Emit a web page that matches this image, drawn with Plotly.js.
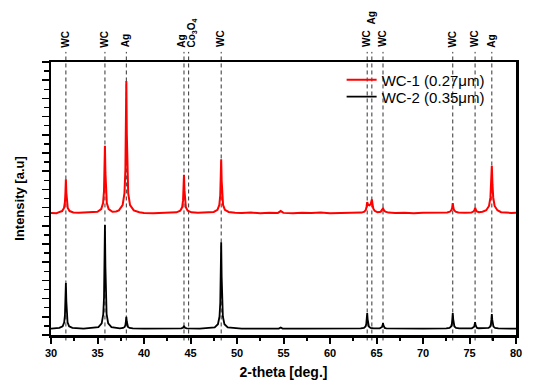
<!DOCTYPE html>
<html>
<head>
<meta charset="utf-8">
<script src="https://cdn.plot.ly/plotly-3.0.1.min.js"></script>
<style>html,body{margin:0;padding:0;background:#fff;}#chart{width:537px;height:389px;}</style>
</head>
<body>
<div id="chart"></div>
<script>
// 2-theta (deg) and intensity (a.u.)
var wc1_x = [30, 30.6, 30.8,
  31.2, 31.4, 31.5, 31.55, 31.6, 31.65, 31.7, 31.8, 32.0, 32.4, 33.0, 34.0,
  35.0, 35.4, 35.6, 35.7, 35.75, 35.8, 35.85, 35.9, 36.0, 36.2, 36.6, 37.0,
  37.3, 37.7, 37.9, 38.0, 38.05, 38.1, 38.15, 38.2, 38.3, 38.5, 38.9, 39.5, 40.0, 41.0, 42.0, 43.0,
  43.5, 43.9, 44.1, 44.2, 44.25, 44.3, 44.35, 44.4, 44.5, 44.7, 45.1, 45.8, 46.5,
  47.5, 47.9, 48.1, 48.2, 48.25, 48.3, 48.35, 48.4, 48.5, 48.7, 49.1, 49.8, 50.5, 51.5, 52.5, 53.5,
  54.4, 54.7, 55.0, 56.0, 57.0, 58.0, 59.0, 60.0, 61.0, 62.0, 63.0,
  63.4, 63.7, 63.85, 63.93, 64.0, 64.1, 64.25, 64.38, 64.45, 64.5, 64.57, 64.65, 64.8, 65.1,
  65.45, 65.6, 65.7, 65.8, 65.95, 66.3, 67.0, 68.0, 69.0, 70.0, 71.0, 72.0,
  72.6, 72.9, 73.05, 73.13, 73.2, 73.27, 73.35, 73.5, 73.8, 74.5,
  75.2, 75.45, 75.55, 75.6, 75.65, 75.75, 76.0,
  76.4, 76.8, 77.1, 77.25, 77.33, 77.4, 77.47, 77.55, 77.7, 78.0, 78.4, 79.0, 79.5, 80];
var wc1_y = [13.42, 13.38, 13.47,
  13.62, 13.96, 14.62, 15.62, 17.1, 15.62, 14.62, 13.96, 13.62, 13.47, 13.44, 13.47,
  13.55, 13.84, 14.51, 15.84, 17.84, 20.8, 17.84, 15.84, 14.51, 13.84, 13.55, 13.58,
  13.69, 14.27, 15.58, 18.19, 22.1, 27.9, 22.1, 18.19, 15.58, 14.27, 13.69, 13.5, 13.42, 13.38, 13.44, 13.42,
  13.48, 13.65, 14.03, 14.79, 15.92, 17.6, 15.92, 14.79, 14.03, 13.65, 13.48, 13.43, 13.47,
  13.52, 13.75, 14.29, 15.35, 16.94, 19.3, 16.94, 15.35, 14.29, 13.75, 13.52, 13.44, 13.40, 13.45, 13.38, 13.43,
  13.42, 13.62, 13.42, 13.39, 13.44, 13.40, 13.45, 13.38, 13.42, 13.46, 13.42,
  13.45, 13.55, 13.75, 14.1, 14.6, 14.3, 14.25, 14.4, 14.8, 14.9, 14.4, 13.9, 13.65, 13.5,
  13.55, 13.7, 13.9, 13.7, 13.55, 13.45, 13.40, 13.44, 13.39, 13.43, 13.41, 13.43,
  13.46, 13.55, 13.7, 13.95, 14.5, 13.95, 13.7, 13.55, 13.46, 13.44,
  13.45, 13.6, 13.75, 14.0, 13.75, 13.6, 13.5,
  13.55, 13.71, 14.18, 15.12, 16.52, 18.6, 16.52, 15.12, 14.18, 13.71, 13.5, 13.44, 13.42, 13.44];

var wc2_x = [30,
  30.9, 31.25, 31.42, 31.5, 31.55, 31.6, 31.65, 31.7, 31.78, 31.95, 32.3, 33.5,
  35.1, 35.45, 35.62, 35.7, 35.75, 35.8, 35.85, 35.9, 35.98, 36.15, 36.5,
  37.4, 37.75, 37.92, 38.0, 38.05, 38.1, 38.15, 38.2, 38.28, 38.45, 38.8, 40.0, 42.0,
  44.0, 44.2, 44.3, 44.4, 44.6, 46.0,
  47.6, 47.95, 48.12, 48.2, 48.25, 48.3, 48.35, 48.4, 48.48, 48.65, 49.0, 50.5, 52.5,
  54.5, 54.7, 54.9, 57.0, 60.0,
  63.3, 63.65, 63.82, 63.9, 63.95, 64.0, 64.05, 64.1, 64.18, 64.35, 64.7,
  65.35, 65.52, 65.6, 65.65, 65.7, 65.75, 65.8, 65.88, 66.05, 68.0, 70.0,
  72.5, 72.85, 73.02, 73.1, 73.15, 73.2, 73.25, 73.3, 73.38, 73.55, 73.9,
  75.25, 75.42, 75.5, 75.55, 75.6, 75.65, 75.7, 75.78, 75.95,
  76.7, 77.05, 77.22, 77.3, 77.35, 77.4, 77.45, 77.5, 77.58, 77.75, 78.1, 80];
var wc2_y = [0.7,
  0.78, 0.95, 1.4, 2.2, 3.7, 5.7, 3.7, 2.2, 1.4, 0.95, 0.78, 0.7,
  0.87, 1.27, 2.3, 4.12, 7.54, 12.1, 7.54, 4.12, 2.3, 1.27, 0.87,
  0.72, 0.77, 0.88, 1.09, 1.48, 2.0, 1.48, 1.09, 0.88, 0.77, 0.72, 0.7, 0.7,
  0.72, 0.8, 1.0, 0.8, 0.72, 0.7,
  0.84, 1.18, 2.03, 3.55, 6.4, 10.2, 6.4, 3.55, 2.03, 1.18, 0.84, 0.7, 0.7,
  0.7, 0.82, 0.7, 0.7, 0.7,
  0.73, 0.79, 0.94, 1.21, 1.72, 2.4, 1.72, 1.21, 0.94, 0.79, 0.73,
  0.73, 0.78, 0.88, 1.06, 1.3, 1.06, 0.88, 0.78, 0.73, 0.7, 0.7,
  0.73, 0.79, 0.94, 1.21, 1.72, 2.4, 1.72, 1.21, 0.94, 0.79, 0.73,
  0.74, 0.8, 0.91, 1.12, 1.4, 1.12, 0.91, 0.8, 0.74,
  0.72, 0.78, 0.92, 1.18, 1.66, 2.3, 1.66, 1.18, 0.92, 0.78, 0.72, 0.7];

// reference peak positions and phase labels
var refPos = [31.6, 35.8, 38.1, 44.3, 44.8, 48.3, 64.0, 64.5, 65.7, 73.2, 75.6, 77.4];
var refLabels = ['WC', 'WC', 'Ag', 'Ag', 'Co<sub>3</sub>O<sub>4</sub>', 'WC', 'WC', 'Ag', 'WC', 'WC', 'WC', 'Ag'];

var seriesNames = ['WC-1 (0.27\u03bcm)', 'WC-2 (0.35\u03bcm)'];

var FONT = 'Arial, Liberation Sans, sans-serif';

var traces = [
  {x: wc1_x, y: wc1_y, type: 'scatter', mode: 'lines', name: seriesNames[0],
   line: {color: '#ff0000', width: 2}, legend: 'legend'},
  {x: wc2_x, y: wc2_y, type: 'scatter', mode: 'lines', name: seriesNames[1],
   line: {color: '#000000', width: 1.8}, legend: 'legend2'}
];

var shapes = refPos.map(function (p) {
  return {type: 'line', xref: 'x', yref: 'paper', x0: p, x1: p, y0: -0.02, y1: 1.037,
          line: {color: '#333333', width: 1, dash: '4px,3px'}, layer: 'below'};
});

// label placement tweaks
var labelShift = {3: -2, 4: 3};
var raised = {7: true};
var annotations = refPos.map(function (p, i) {
  return {xref: 'x', yref: 'paper', x: p, y: raised[i] ? 1.135 : 1.05,
          xanchor: 'center', yanchor: 'bottom', text: refLabels[i], showarrow: false,
          textangle: -90, borderpad: 0, xshift: labelShift[i] || 0,
          font: {family: FONT, size: 10, color: '#000', weight: 'bold'}};
});

function legendBox(yc) {
  return {x: 0.625, y: yc, xanchor: 'left', yanchor: 'middle', bgcolor: 'rgba(0,0,0,0)',
          font: {family: FONT, size: 15, color: '#000'}, itemwidth: 30};
}

var layout = {
  width: 537, height: 389,
  margin: {l: 51, r: 21, t: 62, b: 54, pad: 0},
  paper_bgcolor: '#ffffff', plot_bgcolor: '#ffffff',
  font: {family: FONT, color: '#000'},
  showlegend: true,
  legend: legendBox(0.934),
  legend2: legendBox(0.872),
  xaxis: {
    range: [30, 80], autorange: false, showgrid: false, zeroline: false,
    showline: true, linecolor: '#000', linewidth: 2.5, mirror: true,
    ticks: 'outside', ticklen: 6, tickwidth: 2, tickcolor: '#000',
    tick0: 30, dtick: 5,
    minor: {ticks: 'outside', ticklen: 3, tickwidth: 2, dtick: 2.5, tick0: 30, tickcolor: '#000', showgrid: false},
    tickfont: {family: FONT, size: 11, color: '#000', weight: 'bold'},
    title: {text: '<b>2-theta [deg.]</b>', standoff: 10,
            font: {family: FONT, size: 14, color: '#000'}}
  },
  yaxis: {
    range: [0, 30], autorange: false, showgrid: false, zeroline: false,
    showline: true, linecolor: '#000', linewidth: 2.5, mirror: true,
    ticks: 'outside', ticklen: 7, tickwidth: 1.5, tickcolor: '#000',
    tick0: 0, dtick: 2, showticklabels: false,
    minor: {ticks: 'outside', ticklen: 5, tickwidth: 1.5, dtick: 1, tick0: 0, tickcolor: '#000', showgrid: false},
    title: {text: '<b>Intensity [a.u]</b>', standoff: 14,
            font: {family: FONT, size: 13, color: '#000'}}
  },
  shapes: shapes,
  annotations: annotations
};

Plotly.newPlot('chart', traces, layout, {displayModeBar: false, staticPlot: true});
</script>
</body>
</html>
